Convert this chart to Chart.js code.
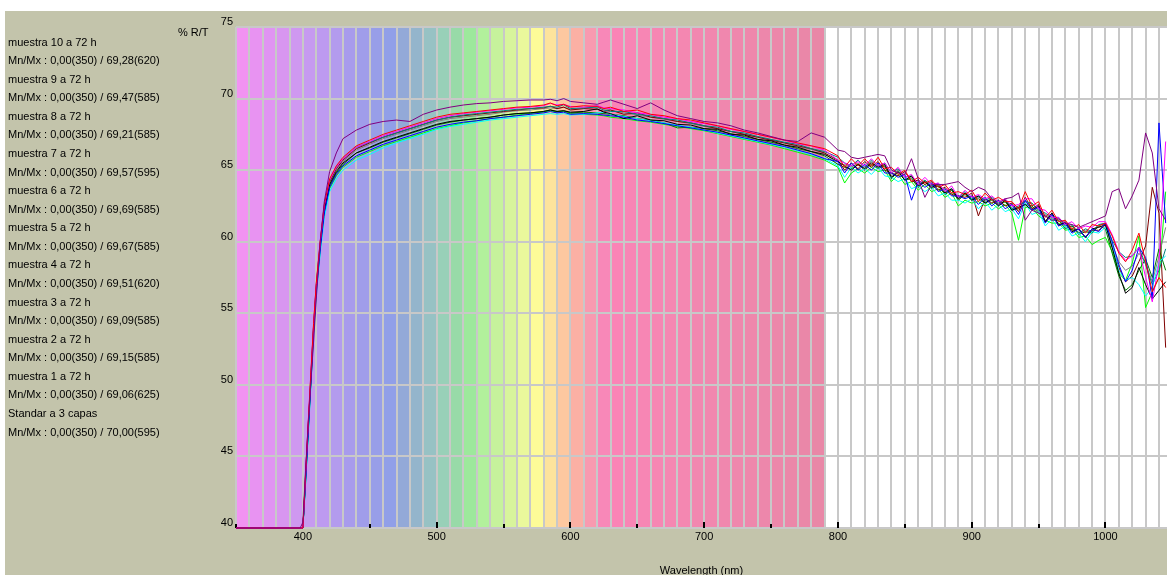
<!DOCTYPE html>
<html>
<head>
<meta charset="utf-8">
<script src="https://cdn.jsdelivr.net/npm/chart.js@4.4.1/dist/chart.umd.min.js"></script>
<style>
  html, body { margin: 0; padding: 0; background: #ffffff; overflow: hidden; width: 1167px; height: 575px; }
  #panel { position: absolute; left: 5px; top: 11px; width: 1162px; height: 564px; background: #c3c4ab; }
  #wrap { position: absolute; left: 0; top: 0; width: 1167px; height: 575px; }
  .txt { position: absolute; font-family: 'Liberation Sans', Arial, sans-serif; font-size: 11px; color: #000; line-height: 13px; white-space: nowrap; }
</style>
</head>
<body>
<div id="panel"></div>
<div id="wrap"><canvas id="c" width="1167" height="575"></canvas></div>
<div id="legend"></div>
<div class="txt" id="ylab" style="left:178px; top:26px;">% R/T</div>
<script>
// ---------------- DATA ----------------
const WAVELENGTHS = [350,398,400,402,404,406,408,410,413,416,420,425,430,
  440,450,460,470,480,490,500,510,520,530,540,550,560,570,
  580,585,590,595,600,610,620,625,630,
  640,650,660,670,680,690,700,710,720,730,740,750,760,770,780,790,
  800,805,810,815,820,825,830,835,840,845,850,855,860,865,870,875,880,885,890,895,
  900,905,910,915,920,925,930,935,940,945,950,955,960,965,970,975,980,985,990,995,
  1000,1005,1010,1015,1020,1025,1030,1035,1040,1045];

const SERIES_NAMES = ['muestra 10 a 72 h','muestra 9 a 72 h','muestra 8 a 72 h','muestra 7 a 72 h',
  'muestra 6 a 72 h','muestra 5 a 72 h','muestra 4 a 72 h','muestra 3 a 72 h','muestra 2 a 72 h',
  'muestra 1 a 72 h','Standar a 3 capas'];

const SERIES_STATS = ['Mn/Mx : 0,00(350) / 69,28(620)','Mn/Mx : 0,00(350) / 69,47(585)',
  'Mn/Mx : 0,00(350) / 69,21(585)','Mn/Mx : 0,00(350) / 69,57(595)','Mn/Mx : 0,00(350) / 69,69(585)',
  'Mn/Mx : 0,00(350) / 69,67(585)','Mn/Mx : 0,00(350) / 69,51(620)','Mn/Mx : 0,00(350) / 69,09(585)',
  'Mn/Mx : 0,00(350) / 69,15(585)','Mn/Mx : 0,00(350) / 69,06(625)','Mn/Mx : 0,00(350) / 70,00(595)'];

const muestra10 = [0,0,40,43.4,46.9,50.4,53.9,56.7,59.7,62.2,64.0,64.9,65.5,
  66.2,66.6,67.0,67.3,67.6,67.9,68.2,68.4,68.5,68.6,68.7,68.85,68.95,69.0,
  69.1,69.2,69.1,69.15,69.05,69.1,69.28,69.05,68.95,
  68.6,68.8,68.5,68.45,68.2,68.15,67.9,67.85,67.5,67.45,67.15,67.05,66.75,66.6,66.3,66.1,
  65.6,65.3,65.0,65.4,65.1,65.5,65.2,65.4,64.5,64.9,64.3,64.6,63.9,64.2,63.8,64.0,63.4,63.7,63.0,63.4,
  62.9,63.2,62.7,63.0,62.5,62.9,62.2,62.4,62.6,62.2,62.5,61.4,62.0,61.2,61.3,60.7,60.9,60.3,60.9,61.0,
  61.2,59.6,57.8,56.4,56.8,58.2,57.0,56.0,56.6,57.2];

const muestra9 = [0,0,40,43.6,47.1,50.6,54.1,56.9,59.9,62.4,64.2,65.1,65.7,
  66.5,66.9,67.3,67.6,67.9,68.2,68.5,68.7,68.8,68.9,69.0,69.1,69.2,69.3,
  69.35,69.47,69.3,69.4,69.2,69.3,69.25,69.1,69.2,
  68.9,69.0,68.7,68.6,68.4,68.3,68.1,67.9,67.7,67.5,67.3,67.1,66.9,66.7,66.5,66.2,
  65.7,65.0,65.5,65.1,65.6,65.2,65.6,65.0,64.8,64.6,64.9,64.2,64.3,64.0,64.2,63.6,63.8,63.3,63.2,63.1,
  63.4,61.8,63.0,62.7,62.9,62.5,62.7,62.1,63.1,62.3,62.6,61.4,62.0,61.1,61.4,60.8,60.9,60.3,60.8,60.8,
  61.2,59.6,58.2,57.2,57.6,58.6,59.7,63.8,62.0,52.6];

const muestra8 = [0,0,40,43.3,46.8,50.3,53.8,56.6,59.6,62.1,63.9,64.8,65.4,
  66.2,66.55,66.95,67.25,67.55,67.85,68.15,68.35,68.5,68.6,68.7,68.85,68.95,69.0,
  69.1,69.21,69.1,69.15,69.0,69.05,69.0,68.95,68.9,
  68.8,68.6,68.5,68.3,67.95,68.0,67.9,67.75,67.55,67.35,67.15,66.95,66.75,66.5,66.3,66.0,
  65.4,65.2,65.1,65.4,65.0,65.4,65.1,65.3,64.4,64.9,64.3,64.4,63.8,64.2,63.7,63.9,63.3,63.6,62.9,63.3,
  62.9,63.0,62.7,62.9,62.5,62.8,62.2,62.3,62.6,62.5,62.0,61.8,61.5,61.5,60.9,61.1,60.5,60.7,60.6,61.1,
  60.9,59.2,57.6,56.6,57.0,58.0,58.8,57.5,59.5,58.0];

const muestra7 = [0,0,40,43.7,47.2,50.7,54.2,57.0,60.0,62.5,64.3,65.2,65.8,
  66.6,66.95,67.3,67.6,67.9,68.2,68.5,68.7,68.85,68.95,69.05,69.15,69.25,69.3,
  69.4,69.45,69.4,69.57,69.3,69.35,69.4,69.2,69.1,
  69.1,68.9,68.8,68.6,68.5,68.3,68.1,68.0,67.7,67.6,67.35,67.15,66.95,66.8,66.5,66.3,
  65.9,65.5,65.3,65.7,65.2,65.7,65.3,65.5,64.8,65.1,64.5,64.6,64.0,64.3,63.9,64.1,63.5,63.7,63.1,63.5,
  63.0,63.2,62.9,63.1,62.7,63.0,62.3,62.5,62.8,62.7,62.2,62.0,61.7,61.7,61.1,61.2,60.6,60.9,60.7,61.2,
  61.3,60.1,59.3,58.9,59.0,59.6,58.4,57.0,58.0,59.5];

const muestra6 = [0,0,40,43.8,47.4,50.9,54.3,57.1,60.1,62.6,64.4,65.3,65.9,
  66.7,67.1,67.5,67.8,68.1,68.4,68.7,68.9,69.0,69.1,69.2,69.3,69.4,69.45,
  69.55,69.69,69.5,69.6,69.4,69.5,69.45,69.3,69.4,
  69.1,69.2,68.9,68.8,68.6,68.5,68.3,68.1,67.9,67.7,67.5,67.3,67.1,66.9,66.7,66.5,
  66.0,65.2,65.8,65.3,65.8,65.3,65.9,65.1,65.2,64.7,65.0,64.2,64.5,64.1,64.3,63.8,64.0,63.4,63.5,63.3,
  63.6,62.8,63.4,62.9,63.1,62.8,62.8,62.3,63.5,62.5,62.8,61.7,62.2,61.4,61.5,60.9,61.2,60.6,61.2,61.1,
  61.3,60.4,59.2,58.6,59.4,60.6,58.6,56.5,57.5,56.8];

const muestra5 = [0,0,40,43.7,47.3,50.8,54.2,57.0,60.0,62.5,64.3,65.2,65.8,
  66.6,67.0,67.4,67.7,68.0,68.3,68.6,68.8,68.95,69.05,69.15,69.25,69.35,69.4,
  69.5,69.67,69.55,69.6,69.45,69.4,69.5,69.35,69.3,
  69.2,69.0,68.9,68.7,68.6,68.4,68.25,68.1,67.85,67.7,67.5,67.3,67.1,66.85,66.7,66.4,
  65.7,65.5,65.3,65.6,65.3,65.8,65.3,65.5,64.8,65.2,64.5,64.7,64.0,64.5,64.0,64.1,63.5,63.9,63.1,63.6,
  63.1,63.3,63.0,63.2,62.8,63.0,62.5,62.6,63.0,63.0,62.3,62.2,61.7,61.7,61.2,61.4,60.9,61.1,61.0,61.4,
  61.4,60.5,59.3,58.7,59.0,59.6,57.5,55.8,58.5,67.0];

const muestra4 = [0,0,40,43.5,47.0,50.5,54.0,56.8,59.8,62.3,64.1,65.0,65.6,
  66.4,66.8,67.2,67.5,67.8,68.1,68.4,68.6,68.7,68.8,68.9,69.05,69.15,69.2,
  69.3,69.35,69.3,69.4,69.25,69.3,69.51,69.3,69.2,
  69.0,68.85,68.7,68.55,68.4,68.25,68.05,67.9,67.7,67.5,67.3,67.1,66.9,66.65,66.45,66.2,
  65.4,65.4,65.2,65.5,65.1,65.6,65.2,65.3,64.6,65.0,64.3,64.5,63.8,64.3,63.8,63.9,63.4,63.6,62.9,63.4,
  62.9,63.1,62.8,63.0,62.6,62.8,62.3,62.4,62.6,62.7,62.1,61.9,61.6,61.6,61.0,61.1,60.6,60.8,60.6,61.2,
  61.2,59.8,58.6,58.0,58.3,59.2,58.5,57.2,59.0,61.0];

const muestra3 = [0,0,40,43.2,46.7,50.2,53.7,56.5,59.5,62.0,63.8,64.7,65.3,
  66.0,66.4,66.8,67.1,67.4,67.7,68.0,68.2,68.35,68.45,68.6,68.7,68.8,68.9,
  69.0,69.09,69.0,69.05,68.9,68.95,68.9,68.85,68.8,
  68.7,68.5,68.4,68.25,68.1,67.95,67.8,67.65,67.45,67.25,67.05,66.85,66.65,66.4,66.15,65.8,
  65.6,64.8,65.5,65.0,65.4,65.0,65.5,64.8,64.8,64.5,64.7,62.9,64.2,63.8,64.1,63.5,63.7,63.2,63.2,63.0,
  63.2,62.6,63.1,62.5,62.9,62.3,62.6,61.9,62.9,62.2,62.4,61.3,61.9,61.1,61.3,60.6,60.9,60.3,60.9,60.7,
  61.3,60.0,58.4,57.2,58.0,59.6,58.9,56.0,68.3,61.3];

const muestra2 = [0,0,40,43.1,46.6,50.1,53.6,56.4,59.4,61.9,63.7,64.6,65.2,
  65.9,66.3,66.7,67.0,67.3,67.6,67.9,68.1,68.3,68.45,68.6,68.7,68.85,68.95,
  69.05,69.15,69.05,69.1,68.95,68.9,68.85,68.8,68.7,
  68.6,68.45,68.35,68.2,68.05,67.9,67.75,67.55,67.35,67.15,66.95,66.75,66.5,66.25,66.0,65.7,
  65.2,64.1,64.8,65.1,64.8,65.2,64.9,65.0,64.2,64.7,64.0,64.2,63.6,64.0,63.5,63.7,63.1,63.4,62.5,62.9,
  62.7,62.8,62.5,62.7,62.3,62.6,62.0,60.1,62.4,62.4,61.8,61.5,61.3,61.3,60.8,60.9,60.3,60.4,59.8,60.1,
  60.3,59.3,57.8,57.3,58.5,60.4,55.4,56.5,57.5,63.5];

const muestra1 = [0,0,39.6,43.0,46.4,49.9,53.4,56.2,59.2,61.7,63.5,64.4,65.0,
  65.7,66.1,66.55,66.9,67.2,67.5,67.85,68.05,68.2,68.35,68.5,68.6,68.7,68.8,
  68.9,68.95,68.9,68.95,68.85,68.9,69.0,69.06,68.9,
  68.75,68.6,68.45,68.3,68.15,68.0,67.8,67.6,67.4,67.2,67.0,66.8,66.6,66.35,66.1,65.8,
  65.3,64.5,65.2,64.8,65.1,64.7,65.2,64.6,64.5,64.2,64.4,63.7,63.9,63.5,63.8,63.2,63.4,62.9,62.9,62.7,
  63.0,62.3,62.8,62.2,62.6,62.1,62.3,61.6,62.7,61.9,62.1,61.1,61.6,60.8,61.1,60.4,60.6,60.0,60.7,60.6,
  61.0,59.8,58.0,57.3,57.5,57.0,56.2,56.8,58.6,59.0];

const standar = [0,0,40.4,44.0,47.3,50.2,53.0,56.0,60.0,62.8,64.9,66.2,67.2,
  67.8,68.2,68.4,68.5,68.4,68.9,69.2,69.4,69.55,69.65,69.7,69.8,69.85,69.9,
  69.9,69.95,69.85,70.0,69.8,69.7,69.6,69.75,69.9,
  69.6,69.3,69.7,69.2,68.8,68.6,68.4,68.3,68.1,67.8,67.6,67.35,67.1,67.0,67.6,67.3,
  66.4,66.3,65.9,65.8,65.9,66.0,66.1,66.0,65.0,64.8,64.7,65.8,64.4,63.1,64.0,64.0,64.0,64.1,64.2,63.8,
  63.5,63.8,63.6,63.0,62.6,63.0,63.1,63.4,61.5,62.2,62.0,61.8,61.5,61.6,61.3,61.2,61.0,61.2,61.4,61.6,
  61.8,63.5,63.7,62.3,63.2,64.3,67.6,66.2,62.3,61.5];

const SERIES_VALUES = [muestra10, muestra9, muestra8, muestra7, muestra6, muestra5, muestra4, muestra3, muestra2, muestra1, standar];

const X_TICK_LABELS = [400, 500, 600, 700, 800, 900, 1000];
const Y_TICK_LABELS = [40, 45, 50, 55, 60, 65, 70, 75];

// ---------------- STYLE ----------------
const SERIES_COLORS = ['#000000','#800000','#008000','#008080','#ff0000','#ff00ff','#808080','#0000ff','#00ff00','#00ffff','#800080'];
const DRAW_ORDER = [3, 6, 7, 5, 0, 1, 8, 2, 9, 4, -1];   // lower = drawn on top
const BAND_COLORS = ['#f293f2','#e893f2','#e094f2','#d896f0','#cf98f0','#c69af0','#bd9af0','#b39bee','#a89bec','#a09dea',
  '#989ee8','#919fe8','#93a9d8','#94b5cc','#97c2c4','#98d0b8','#98daa8','#9de89c','#b2f09c','#c6f29c',
  '#d8f49c','#eaf89c','#fdfb98','#fde39c','#fdc8a0','#fbb0a4','#f89ab0','#f888b8','#fa84b6','#f885b5',
  '#f786b4','#f686b3','#f587b2','#f487b1','#f287b0','#f187af','#f087ae','#ef87ad','#ee87ac','#ed87ab',
  '#ec87aa','#eb87a9','#ea87a8','#e987a7'];
const X_MIN = 350, X_MAX = 1046, Y_MIN = 40, Y_MAX = 75;
const FONT = "'Liberation Sans', Arial, sans-serif";

// legend text (left panel)
const legend = document.getElementById('legend');
SERIES_NAMES.forEach((name, k) => {
  [name, SERIES_STATS[k]].forEach((t, j) => {
    const d = document.createElement('div');
    d.className = 'txt';
    d.style.left = '8px';
    d.style.top = (42 + (2 * k + j) * 18.57 - 6.5).toFixed(1) + 'px';
    d.textContent = t;
    legend.appendChild(d);
  });
});

const bandsPlugin = {
  id: 'bands',
  beforeDraw(chart) {
    const {ctx, chartArea: a, scales: {x}} = chart;
    ctx.save();
    ctx.fillStyle = '#ffffff';
    ctx.fillRect(a.left, a.top, a.right - a.left, a.bottom - a.top);
    BAND_COLORS.forEach((c, i) => {
      const x0 = x.getPixelForValue(X_MIN + 10 * i);
      const x1 = x.getPixelForValue(X_MIN + 10 * (i + 1));
      ctx.fillStyle = c;
      ctx.fillRect(x0, a.top, x1 - x0, a.bottom - a.top);
    });
    ctx.restore();
  },
  beforeDatasetsDraw(chart) {
    const {ctx, chartArea: a, scales: {x}} = chart;
    ctx.save();
    ctx.fillStyle = '#000';
    for (let v = X_MIN; v <= X_MAX; v += 50) {
      const px = Math.round(x.getPixelForValue(v));
      const h = (v % 100 === 0) ? 6 : 4;
      ctx.fillRect(px - 1, a.bottom - h, 2, h);
    }
    ctx.restore();
  }
};

Chart.defaults.font.family = FONT;
Chart.defaults.font.size = 11;
Chart.defaults.color = '#000';

const datasets = SERIES_NAMES.map((name, k) => ({
  label: name,
  data: WAVELENGTHS.map((w, i) => ({x: w, y: Math.max(SERIES_VALUES[k][i], Y_MIN)})),
  borderColor: SERIES_COLORS[k],
  backgroundColor: SERIES_COLORS[k],
  borderWidth: 1,
  pointRadius: 0,
  tension: 0,
  order: DRAW_ORDER[k],
  clip: {left: 0, top: 0, right: 0, bottom: 1}
}));

new Chart(document.getElementById('c'), {
  type: 'line',
  data: {datasets},
  plugins: [bandsPlugin],
  options: {
    responsive: false,
    animation: false,
    devicePixelRatio: 1,
    layout: {padding: {left: 0, right: 0, top: 27, bottom: 0}},
    plugins: {legend: {display: false}, tooltip: {enabled: false}},
    scales: {
      x: {
        type: 'linear', min: X_MIN, max: X_MAX,
        afterBuildTicks: s => {
          const t = [];
          for (let v = X_MIN; v < X_MAX; v += 10) t.push({value: v});
          s.ticks = t;
        },
        afterFit: s => { s.height = 47; },
        ticks: {
          autoSkip: false, maxRotation: 0, minRotation: 0, padding: 2, color: '#000',
          callback: v => X_TICK_LABELS.includes(v) ? String(v) : ''
        },
        grid: {color: '#c8c8c8', lineWidth: 2, drawTicks: false},
        border: {display: false},
        title: {display: true, text: 'Wavelength (nm)', color: '#000', font: {size: 11}, padding: {top: 0, bottom: -3}}
      },
      y: {
        min: Y_MIN, max: Y_MAX,
        afterBuildTicks: s => { s.ticks = Y_TICK_LABELS.map(v => ({value: v})); },
        afterFit: s => { s.width = 236; },
        ticks: {padding: 3, labelOffset: -5, color: '#000'},
        grid: {color: '#c8c8c8', lineWidth: 2, drawTicks: false},
        border: {display: false}
      }
    }
  }
});
</script>
</body>
</html>
